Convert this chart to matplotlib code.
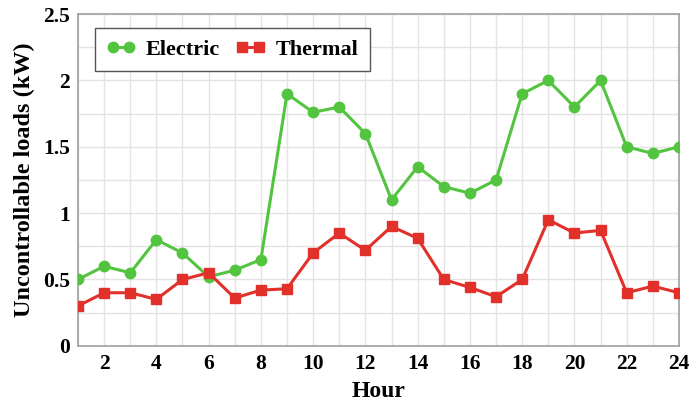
import matplotlib
matplotlib.use("Agg")
import matplotlib.pyplot as plt
from matplotlib.ticker import MultipleLocator, FuncFormatter

plt.rcParams['font.family'] = ['Liberation Serif', 'DejaVu Serif']
plt.rcParams['font.weight'] = 'bold'

hours = list(range(1, 25))
electric = [0.5, 0.6, 0.55, 0.8, 0.7, 0.52, 0.57, 0.65, 1.9, 1.76, 1.8, 1.6,
            1.1, 1.35, 1.2, 1.15, 1.25, 1.9, 2.0, 1.8, 2.0, 1.5, 1.45, 1.5]
thermal = [0.3, 0.4, 0.4, 0.35, 0.5, 0.55, 0.36, 0.42, 0.43, 0.7, 0.85, 0.72,
           0.9, 0.81, 0.5, 0.44, 0.37, 0.5, 0.95, 0.85, 0.87, 0.4, 0.45, 0.4]

green = '#52c43f'
red = '#e2302a'

fig = plt.figure(figsize=(6.9, 4.04), dpi=100)
ax = fig.add_axes([0.113, 0.144, 0.871, 0.821])

ax.plot(hours, electric, color=green, lw=2.2, marker='o', ms=7.5, label='Electric', zorder=3)
ax.plot(hours, thermal, color=red, lw=2.2, marker='s', ms=7.5, label='Thermal', zorder=3)

ax.set_xlim(1, 24)
ax.set_ylim(0, 2.5)
ax.xaxis.set_major_locator(MultipleLocator(2))
ax.xaxis.set_minor_locator(MultipleLocator(1))
ax.yaxis.set_major_locator(MultipleLocator(0.5))
ax.yaxis.set_minor_locator(MultipleLocator(0.25))
ax.yaxis.set_major_formatter(FuncFormatter(lambda v, p: f"{v:g}"))
ax.grid(which='both', color='#e3e3e3', lw=1.0, zorder=0)
ax.tick_params(which='both', length=0, labelsize=15.5, pad=6)
for lab in ax.get_xticklabels() + ax.get_yticklabels():
    lab.set_fontweight('bold')
for s in ax.spines.values():
    s.set_color('#a0a0a0')
    s.set_linewidth(1.2)

ax.set_xlabel('Hour', fontsize=17, fontweight='bold', labelpad=5)
ax.set_ylabel('Uncontrollable loads (kW)', fontsize=17.5, fontweight='bold')
ax.yaxis.set_label_coords(-0.072, 0.5)

leg = ax.legend(loc='upper left', bbox_to_anchor=(0.028, 0.958), ncol=2, fontsize=16,
                numpoints=2, fancybox=False, edgecolor='#555555', framealpha=1,
                handlelength=1.35, handletextpad=0.45, columnspacing=0.7,
                borderpad=0.5, borderaxespad=0)
leg.get_frame().set_linewidth(1.0)

fig.savefig('out.png', dpi=100)
